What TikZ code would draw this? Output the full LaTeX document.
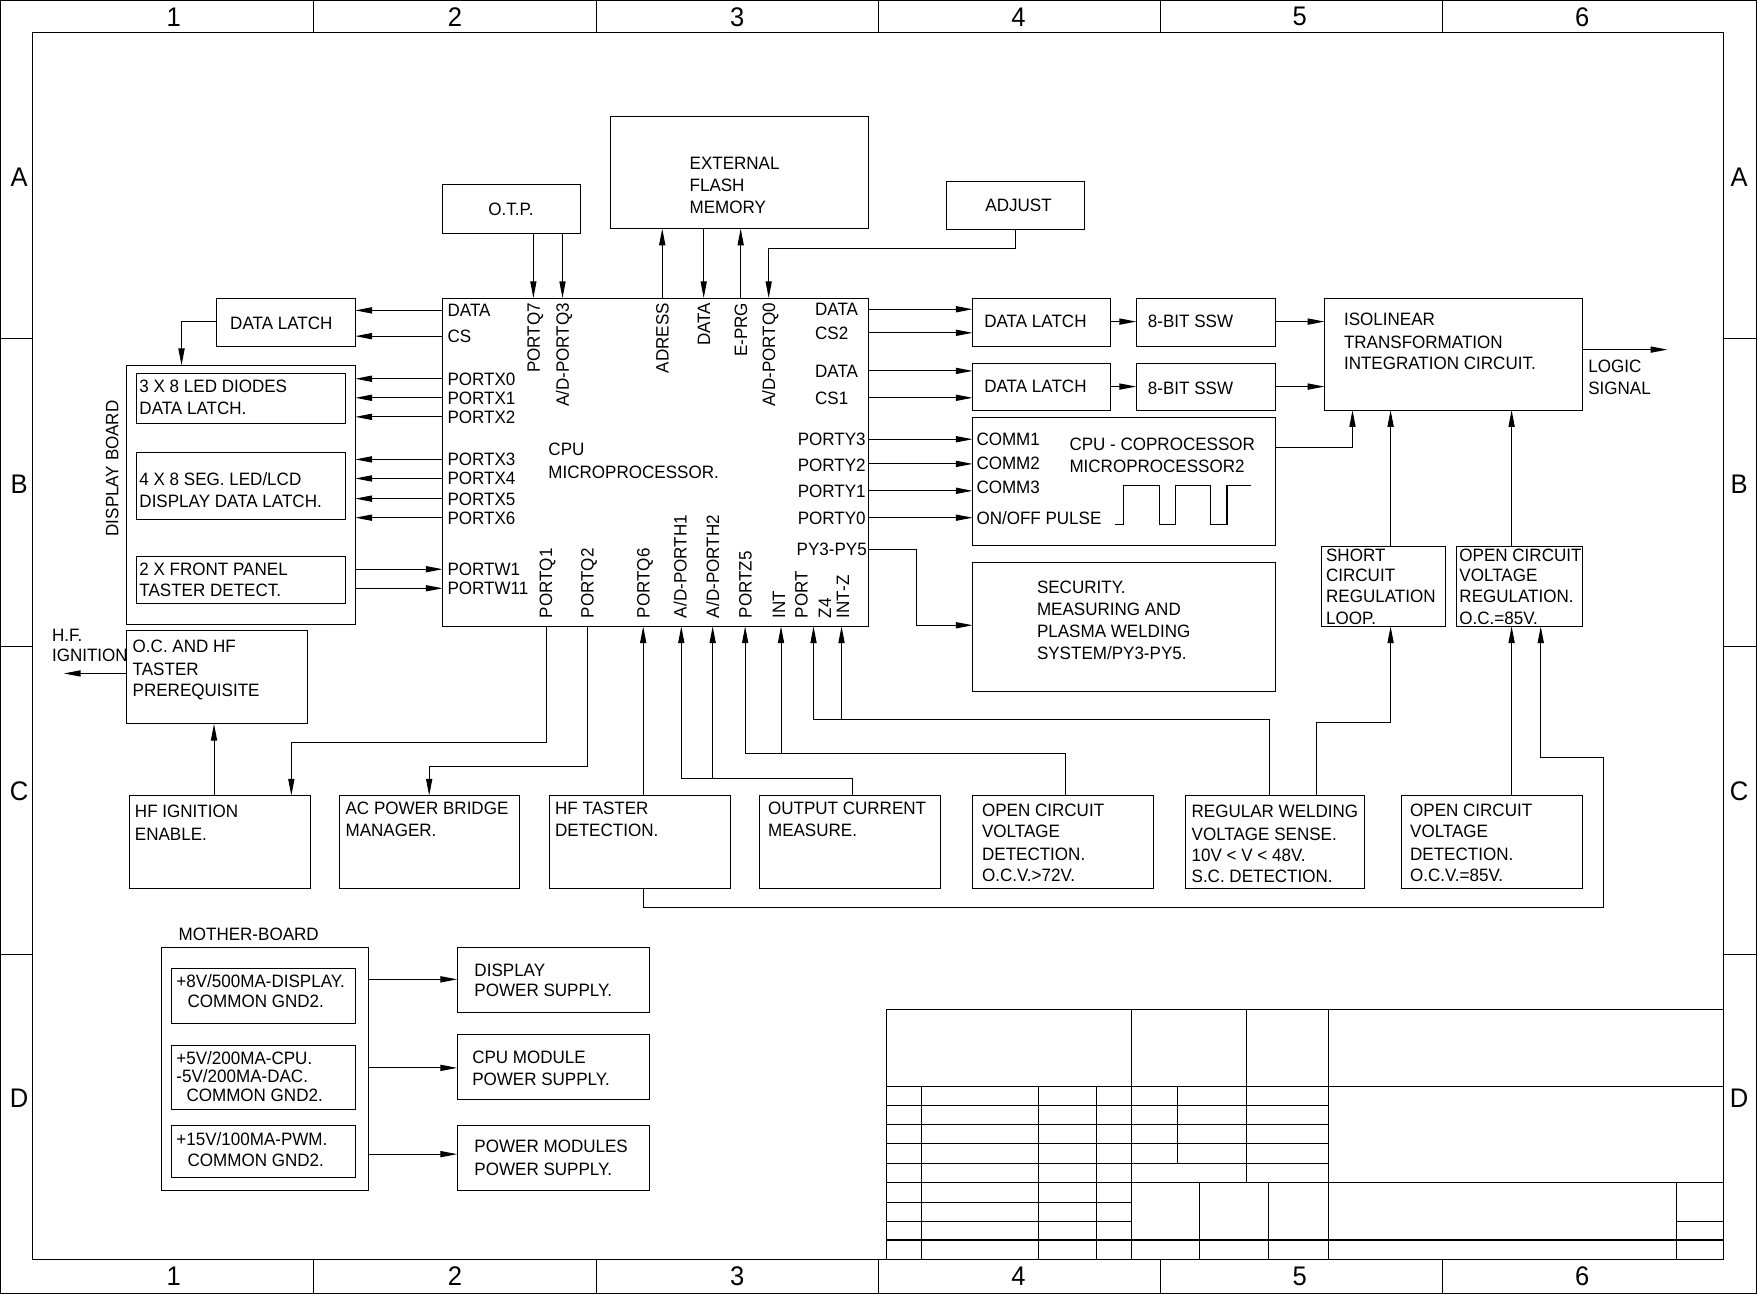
\documentclass[tikz,border=0pt]{standalone}
\usepackage{fontspec}
\setmainfont{Liberation Sans}[FakeStretch=0.95]
\usetikzlibrary{arrows.meta,fit}
\newcommand{\myfs}{\fontsize{16}{19}\selectfont}
\newcommand{\mybx}[5]{\node[draw,inner sep=0pt,outer sep=0pt,fit={(#2,#3)(#4,#5)}] (#1) {};}
\newcommand{\mytx}[4]{\node[txt] (#1) at ({#2},{#3+5.7}) {#4};}
\newcommand{\mytxr}[4]{\node[txtr] (#1) at ({#2},{#3+5.7}) {#4};}
\newcommand{\myrtop}[3]{\node[rt,anchor=base east] (#1) at ({#2+5.7},270) {#3};}
\newcommand{\myrbot}[3]{\node[rt,anchor=base west] (#1) at ({#2+5.7},552) {#3};}
\begin{document}
\begin{tikzpicture}[x=1pt,y=-1pt,line width=0.9pt,
  txt/.style={anchor=base west,inner sep=0pt,font=\myfs},
  txtr/.style={anchor=base east,inner sep=0pt,font=\myfs},
  rt/.style={rotate=90,inner sep=0pt,font=\myfs},
  arr/.style={-{Triangle[length=15pt,width=5.5pt]}},
  big/.style={inner sep=0pt,font=\fontsize{24}{24}\selectfont}]
\useasboundingbox (0,0) rectangle (1568,1155);
% ---------- frame ----------
\draw (0.5,0.5) rectangle (1567.5,1154.5);
\draw (29,29) rectangle (1538,1124);
\foreach \x in {280,532,784,1036,1287}{\draw (\x,0.5) -- (\x,29); \draw (\x,1124) -- (\x,1154.5);}
\foreach \y in {302,577,852}{\draw (0.5,\y) -- (29,\y); \draw (1538,\y) -- (1567.5,\y);}
\foreach \n/\x in {1/155,2/406,3/658,4/909,5/1160,6/1412}{
  \node[big] (top\n) at (\x,15) {\n};
  \node[big] (bot\n) at (\x,1139) {\n};}
\foreach \l/\y in {A/158,B/432,C/706,D/980}{
  \node[big] (lft\l) at (17,\y) {\l};
  \node[big] (rgt\l) at (1552,\y) {\l};}
% ---------- title block ----------
\draw (791,901) -- (1538,901);
\draw (791,901) -- (791,1124);
\draw (791,969.5) -- (1538,969.5);
\draw (791,1055.2) -- (1538,1055.2);
\draw (791,1106.6) -- (1538,1106.6);
\foreach \y in {987,1003.8,1020.6,1038.4}{\draw (791,\y) -- (1185.4,\y);}
\foreach \y in {1072.9,1089.8}{\draw (791,\y) -- (1009.4,\y);}
\draw (1496.2,1089.8) -- (1538,1089.8);
\draw (1009.4,901) -- (1009.4,1124);
\draw (1185.4,901) -- (1185.4,1124);
\draw (1112.8,901) -- (1112.8,1055.2);
\foreach \x in {822.3,926.7,978.6}{\draw (\x,969.5) -- (\x,1124);}
\draw (1050.8,969.5) -- (1050.8,1038.4);
\foreach \x in {1070.4,1132,1496.2}{\draw (\x,1055.2) -- (\x,1124);}
% ---------- boxes ----------
\mybx{cpu}{395}{266}{775}{559}
\mybx{otp}{395}{165}{518}{208}
\mybx{flash}{545}{104}{775}{204}
\mybx{adjust}{845}{162}{968}{205}
\mybx{dlL}{193}{266}{317}{309}
\mybx{disp}{113}{326}{317}{557}
\mybx{led}{122}{333}{308}{378}
\mybx{seg}{122}{404}{308}{464}
\mybx{front}{122}{497}{308}{539}
\mybx{ochf}{113}{563}{274}{646}
\mybx{hfig}{116}{710}{277}{793}
\mybx{acpb}{303}{710}{464}{793}
\mybx{hft}{490}{710}{652}{793}
\mybx{occ}{678}{710}{839}{793}
\mybx{ocvA}{868}{710}{1029}{793}
\mybx{regw}{1058}{710}{1218}{793}
\mybx{ocvB}{1251}{710}{1412}{793}
\mybx{dlA}{868}{266}{991}{309}
\mybx{sswA}{1014}{266}{1138}{309}
\mybx{dlB}{868}{324}{991}{366}
\mybx{sswB}{1014}{324}{1138}{366}
\mybx{iso}{1182}{266}{1412}{366}
\mybx{cop}{868}{373}{1138}{487}
\mybx{sec}{868}{502}{1138}{617}
\mybx{scr}{1179}{488}{1290}{559}
\mybx{ocvr}{1300}{488}{1412}{559}
\mybx{mb}{144}{846}{329}{1062}
\mybx{mbA}{153}{864}{317}{913}
\mybx{mbB}{153}{933}{317}{990}
\mybx{mbC}{153}{1004}{317}{1051}
\mybx{dps}{408}{846}{580}{904}
\mybx{cps}{408}{923}{580}{981}
\mybx{pps}{408}{1004}{580}{1062}
% ---------- texts ----------
\node[txt,anchor=base] (totp) at (456,192.7) {O.T.P.};
\mytx{tfl1}{615}{146}{EXTERNAL}
\mytx{tfl2}{615}{165}{FLASH}
\mytx{tfl3}{615}{185}{MEMORY}
\mytx{tadj}{879}{183}{ADJUST}
\mytx{tdlL}{205}{288}{DATA LATCH}
\mytx{tled1}{124}{344.5}{3 X 8 LED DIODES}
\mytx{tled2}{124}{364}{DATA LATCH.}
\mytx{tseg1}{124}{428}{4 X 8 SEG. LED/LCD}
\mytx{tseg2}{124}{447}{DISPLAY DATA LATCH.}
\mytx{tfr1}{124}{508}{2 X FRONT PANEL}
\mytx{tfr2}{124}{527}{TASTER DETECT.}
\node[rt,anchor=base] (tdisp) at (105.7,418) {DISPLAY BOARD};
\mytx{thf1}{46}{567}{H.F.}
\mytx{thf2}{46}{585}{IGNITION}
\mytx{toc1}{118}{577}{O.C. AND HF}
\mytx{toc2}{118}{597}{TASTER}
\mytx{toc3}{118}{616}{PREREQUISITE}
% CPU labels
\mytx{cl1}{399}{277}{DATA}
\mytx{cl2}{399}{300}{CS}
\mytx{cl3}{399}{338}{PORTX0}
\mytx{cl4}{399}{355}{PORTX1}
\mytx{cl5}{399}{372}{PORTX2}
\mytx{cl6}{399}{410}{PORTX3}
\mytx{cl7}{399}{427}{PORTX4}
\mytx{cl8}{399}{445}{PORTX5}
\mytx{cl9}{399}{462}{PORTX6}
\mytx{cl10}{399}{508}{PORTW1}
\mytx{cl11}{399}{525}{PORTW11}
\mytx{cc1}{489}{401}{CPU}
\mytx{cc2}{489}{421}{MICROPROCESSOR.}
\mytx{cr1}{727}{276}{DATA}
\mytx{cr2}{727}{297}{CS2}
\mytx{cr3}{727}{331}{DATA}
\mytx{cr4}{727}{355}{CS1}
\mytxr{cr5}{773}{392}{PORTY3}
\mytxr{cr6}{773}{415}{PORTY2}
\mytxr{cr7}{773}{438}{PORTY1}
\mytxr{cr8}{773}{462}{PORTY0}
\mytxr{cr9}{774}{490}{PY3-PY5}
\myrtop{ct1}{476}{PORTQ7}
\myrtop{ct2}{502}{A/D-PORTQ3}
\myrtop{ct3}{591}{ADRESS}
\myrtop{ct4}{628}{DATA}
\myrtop{ct5}{661}{E-PRG}
\myrtop{ct6}{686}{A/D-PORTQ0}
\myrbot{cb1}{487}{PORTQ1}
\myrbot{cb2}{524}{PORTQ2}
\myrbot{cb3}{574}{PORTQ6}
\myrbot{cb4}{607}{A/D-PORTH1}
\myrbot{cb5}{636}{A/D-PORTH2}
\myrbot{cb6}{665}{PORTZ5}
\myrbot{cb7}{695}{INT}
\myrbot{cb8}{715}{PORT}
\myrbot{cb9}{736}{Z4}
\myrbot{cb10}{752}{INT-Z}
% right side
\mytx{tdlA}{878}{287}{DATA LATCH}
\mytx{tdlB}{878}{345}{DATA LATCH}
\mytx{tsswA}{1024}{287}{8-BIT SSW}
\mytx{tsswB}{1024}{346}{8-BIT SSW}
\mytx{tiso1}{1199}{285}{ISOLINEAR}
\mytx{tiso2}{1199}{305}{TRANSFORMATION}
\mytx{tiso3}{1199}{324}{INTEGRATION CIRCUIT.}
\mytx{tlog1}{1417}{327}{LOGIC}
\mytx{tlog2}{1417}{346}{SIGNAL}
\mytx{tco1}{871}{392}{COMM1}
\mytx{tco2}{871}{413}{COMM2}
\mytx{tco3}{871}{435}{COMM3}
\mytx{tco4}{871}{462}{ON/OFF PULSE}
\mytx{tco5}{954}{396}{CPU - COPROCESSOR}
\mytx{tco6}{954}{416}{MICROPROCESSOR2}
\draw (995,468) -- (1003,468) -- (1003,433) -- (1035,433) -- (1035,468) -- (1049,468)
      -- (1049,433) -- (1080,433) -- (1080,468) -- (1095,468) -- (1095,433) -- (1116,433);
\mytx{tsec1}{925}{524}{SECURITY.}
\mytx{tsec2}{925}{544}{MEASURING AND}
\mytx{tsec3}{925}{563}{PLASMA WELDING}
\mytx{tsec4}{925}{583}{SYSTEM/PY3-PY5.}
\mytx{tscr1}{1183}{495}{SHORT}
\mytx{tscr2}{1183}{513}{CIRCUIT}
\mytx{tscr3}{1183}{532}{REGULATION}
\mytx{tscr4}{1183}{552}{LOOP.}
\mytx{tor1}{1302}{495}{OPEN CIRCUIT}
\mytx{tor2}{1302}{513}{VOLTAGE}
\mytx{tor3}{1302}{532}{REGULATION.}
\mytx{tor4}{1302}{552}{O.C.=85V.}
% bottom boxes
\mytx{thi1}{120}{724}{HF IGNITION}
\mytx{thi2}{120}{744}{ENABLE.}
\mytx{tac1}{308}{721}{AC POWER BRIDGE}
\mytx{tac2}{308}{741}{MANAGER.}
\mytx{tht1}{495}{721}{HF TASTER}
\mytx{tht2}{495}{741}{DETECTION.}
\mytx{toc4}{685}{721}{OUTPUT CURRENT}
\mytx{toc5}{685}{741}{MEASURE.}
\mytx{tva1}{876}{723}{OPEN CIRCUIT}
\mytx{tva2}{876}{742}{VOLTAGE}
\mytx{tva3}{876}{762}{DETECTION.}
\mytx{tva4}{876}{781}{O.C.V.>72V.}
\mytx{trw1}{1063}{724}{REGULAR WELDING}
\mytx{trw2}{1063}{744}{VOLTAGE SENSE.}
\mytx{trw3}{1063}{763}{10V < V < 48V.}
\mytx{trw4}{1063}{782}{S.C. DETECTION.}
\mytx{tvb1}{1258}{723}{OPEN CIRCUIT}
\mytx{tvb2}{1258}{742}{VOLTAGE}
\mytx{tvb3}{1258}{762}{DETECTION.}
\mytx{tvb4}{1258}{781}{O.C.V.=85V.}
% mother board
\mytx{tmb}{159}{834}{MOTHER-BOARD}
\mytx{tmb1}{157}{876}{+8V/500MA-DISPLAY.}
\mytx{tmb2}{167}{893}{COMMON GND2.}
\mytx{tmb3}{157}{944}{+5V/200MA-CPU.}
\mytx{tmb4}{157}{960}{-5V/200MA-DAC.}
\mytx{tmb5}{166}{977}{COMMON GND2.}
\mytx{tmb6}{157}{1017}{+15V/100MA-PWM.}
\mytx{tmb7}{167}{1035}{COMMON GND2.}
\mytx{tps1}{423}{866}{DISPLAY}
\mytx{tps2}{423}{884}{POWER SUPPLY.}
\mytx{tps3}{421}{943}{CPU MODULE}
\mytx{tps4}{421}{963}{POWER SUPPLY.}
\mytx{tps5}{423}{1023}{POWER MODULES}
\mytx{tps6}{423}{1043}{POWER SUPPLY.}
% ---------- connectors ----------
% top
\draw[arr] (476,0 |- otp.south) -- (476,0 |- cpu.north);
\draw[arr] (502,0 |- otp.south) -- (502,0 |- cpu.north);
\draw[arr] (591,0 |- cpu.north) -- (591,0 |- flash.south);
\draw[arr] (628,0 |- flash.south) -- (628,0 |- cpu.north);
\draw[arr] (661,0 |- cpu.north) -- (661,0 |- flash.south);
\draw[arr] (906,0 |- adjust.south) -- (906,222) -| (686,0 |- cpu.north);
% left
\draw[arr] (cpu.west |- 0,277) -- (dlL.east |- 0,277);
\draw[arr] (cpu.west |- 0,300) -- (dlL.east |- 0,300);
\draw[arr] (dlL.west |- 0,287) -| (162,0 |- disp.north);
\foreach \y in {338,355,372,410,427,445,462}{
  \draw[arr] (cpu.west |- 0,\y) -- (disp.east |- 0,\y);}
\draw[arr] (disp.east |- 0,508) -- (cpu.west |- 0,508);
\draw[arr] (disp.east |- 0,525) -- (cpu.west |- 0,525);
\coordinate (hfout) at (57,601);
\draw[arr] (ochf.west |- 0,601) -- (hfout);
\draw[arr] (191,0 |- hfig.north) -- (191,0 |- ochf.south);
% bottom of cpu
\draw[arr] (488,0 |- cpu.south) -- (488,663) -| (260,0 |- hfig.north);
\draw[arr] (524,0 |- cpu.south) -- (524,684) -| (383,0 |- acpb.north);
\draw[arr] (574,0 |- hft.north) -- (574,0 |- cpu.south);
\draw[arr] (761,0 |- occ.north) -- (761,695) -| (608,0 |- cpu.south);
\draw[arr] (636,695) -- (636,0 |- cpu.south);
\draw[arr] (951,0 |- ocvA.north) -- (951,672) -| (665,0 |- cpu.south);
\draw[arr] (697,672) -- (697,0 |- cpu.south);
\draw[arr] (1133,0 |- regw.north) -- (1133,642) -| (726,0 |- cpu.south);
\draw[arr] (751,642) -- (751,0 |- cpu.south);
\draw[arr] (1175,0 |- regw.north) -- (1175,645) -| (1241,0 |- scr.south);
\draw[arr] (1349,0 |- ocvB.north) -- (1349,0 |- ocvr.south);
\draw[arr] (574,0 |- hft.south) |- (1431,810) |- (1375,676) -- (1375,0 |- ocvr.south);
% right side
\draw[arr] (1241,0 |- scr.north) -- (1241,0 |- iso.south);
\draw[arr] (1349,0 |- ocvr.north) -- (1349,0 |- iso.south);
\draw[arr] (cop.east |- 0,399) -| (1207,0 |- iso.south);
\draw[arr] (cpu.east |- 0,276) -- (dlA.west |- 0,276);
\draw[arr] (cpu.east |- 0,297) -- (dlA.west |- 0,297);
\draw[arr] (cpu.east |- 0,331) -- (dlB.west |- 0,331);
\draw[arr] (cpu.east |- 0,355) -- (dlB.west |- 0,355);
\draw[arr] (dlA.east |- 0,287) -- (sswA.west |- 0,287);
\draw[arr] (sswA.east |- 0,287) -- (iso.west |- 0,287);
\draw[arr] (dlB.east |- 0,345) -- (sswB.west |- 0,345);
\draw[arr] (sswB.east |- 0,345) -- (iso.west |- 0,345);
\coordinate (logout) at (1488,312);
\draw[arr] (iso.east |- 0,312) -- (logout);
\foreach \y in {392,414,438,462}{
  \draw[arr] (cpu.east |- 0,\y) -- (cop.west |- 0,\y);}
\draw[arr] (cpu.east |- 0,490) -- (818,490) |- (sec.west |- 0,558);
% mother board
\draw[arr] (mb.east |- 0,874) -- (dps.west |- 0,874);
\draw[arr] (mb.east |- 0,953) -- (cps.west |- 0,953);
\draw[arr] (mb.east |- 0,1030) -- (pps.west |- 0,1030);
\end{tikzpicture}
\end{document}
